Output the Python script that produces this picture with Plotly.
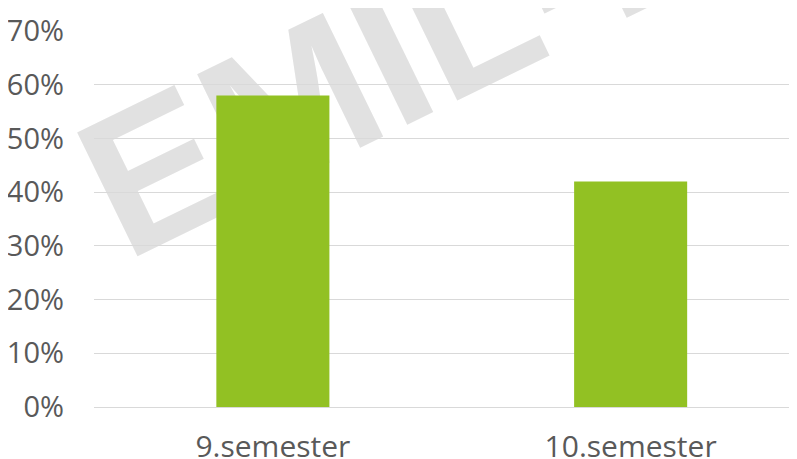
import plotly.graph_objects as go

categories = ["9.semester", "10.semester"]
values = [0.58, 0.42]
y_ticks = [0, 0.1, 0.2, 0.3, 0.4, 0.5, 0.6, 0.7]
y_tick_labels = ["0%", "10%", "20%", "30%", "40%", "50%", "60%", "70%"]
watermark_text = "EMIL-E"

fig = go.Figure()
fig.add_trace(go.Bar(
    x=categories,
    y=values,
    marker=dict(color="#92C123", line=dict(width=0)),
    width=0.316,
    hoverinfo="skip",
))

# watermark behind everything (shape label, drawn below gridlines)
fig.add_shape(
    type="rect", xref="paper", yref="paper",
    x0=0.413, x1=0.433, y0=0.982, y1=1.002,
    line=dict(width=0), fillcolor="rgba(0,0,0,0)",
    layer="below",
    label=dict(text="<b>" + watermark_text + "</b>", textangle=-26,
               textposition="middle center",
               font=dict(family="Liberation Sans", size=200, color="#e1e1e1")),
)

# the page body has an 8px default margin: size the figure to fill the window
fig.update_layout(
    width=789, height=451,
    margin=dict(l=86, r=0, t=23, b=52, autoexpand=False),
    paper_bgcolor="white",
    plot_bgcolor="rgba(0,0,0,0)",
    showlegend=False,
    font=dict(family="Open Sans", color="#595959"),
    xaxis=dict(
        range=[-0.5, 1.465],
        showgrid=False, showline=False, zeroline=False,
        tickfont=dict(size=30, color="#595959"),
        ticklabelstandoff=19,
        automargin=False,
        fixedrange=True,
    ),
    yaxis=dict(
        range=[0, 0.7],
        tickvals=y_ticks, ticktext=y_tick_labels,
        showgrid=True, gridcolor="#d9d9d9", gridwidth=1.3,
        zeroline=True, zerolinecolor="#d9d9d9", zerolinewidth=1.3,
        showline=False,
        tickfont=dict(size=29, color="#595959"),
        ticklabelstandoff=29,
        automargin=False,
        fixedrange=True,
    ),
)

fig.write_html("out.html")
